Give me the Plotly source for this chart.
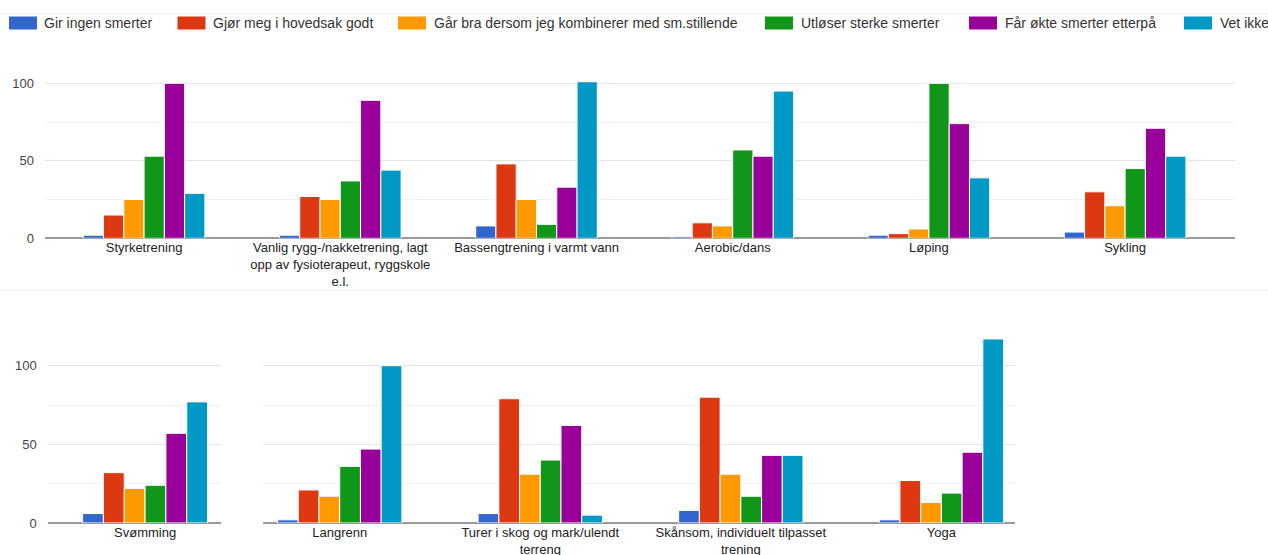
import plotly.graph_objects as go

series_names = [
    "Gir ingen smerter",
    "Gjør meg i hovedsak godt",
    "Går bra dersom jeg kombinerer med sm.stillende",
    "Utløser sterke smerter",
    "Får økte smerter etterpå",
    "Vet ikke",
]
colors = ["#3366cc", "#dc3912", "#ff9900", "#109618", "#990099", "#0099c6"]

# Top panel
top_categories = [
    "Styrketrening",
    "Vanlig rygg-/nakketrening, lagt<br>opp av fysioterapeut, ryggskole<br>e.l.",
    "Bassengtrening i varmt vann",
    "Aerobic/dans",
    "Løping",
    "Sykling",
]
top_values = [
    [2, 2, 8, 1, 2, 4],          # Gir ingen smerter
    [15, 27, 48, 10, 3, 30],     # Gjør meg i hovedsak godt
    [25, 25, 25, 8, 6, 21],      # Går bra dersom ...
    [53, 37, 9, 57, 100, 45],    # Utløser sterke smerter
    [100, 89, 33, 53, 74, 71],   # Får økte smerter etterpå
    [29, 44, 101, 95, 39, 53],   # Vet ikke
]

# Bottom-left panel
swim_categories = ["Svømming"]
swim_values = [[6], [32], [22], [24], [57], [77]]

# Bottom-right panel
bottom_categories = [
    "Langrenn",
    "Turer i skog og mark/ulendt<br>terreng",
    "Skånsom, individuelt tilpasset<br>trening",
    "Yoga",
]
bottom_values = [
    [2, 6, 8, 2],
    [21, 79, 80, 27],
    [17, 31, 31, 13],
    [36, 40, 17, 19],
    [47, 62, 43, 45],
    [100, 5, 43, 117],
]

W, H = 1268, 555
FONT = "Arial, 'Liberation Sans', sans-serif"

fig = go.Figure()
panels = [
    ("x", "y", top_categories, top_values),
    ("x2", "y2", swim_categories, swim_values),
    ("x3", "y3", bottom_categories, bottom_values),
]
for xa, ya, cats, vals in panels:
    for i, name in enumerate(series_names):
        fig.add_trace(go.Bar(
            x=cats, y=vals[i], name=name,
            marker=dict(color=colors[i], line=dict(color="white", width=1)),
            xaxis=xa, yaxis=ya,
            legendgroup=name, showlegend=False,
        ))

def px_x(a, b):
    return [a / W, b / W]

def px_y(top, bottom):
    return [1 - bottom / H, 1 - top / H]

grid_major = "#e3e3e3"
grid_minor = "#f1f1f1"
ycommon = dict(
    tickvals=[0, 50, 100], showgrid=True, gridcolor=grid_major, gridwidth=1,
    zeroline=True, zerolinecolor="#9a9a9a", zerolinewidth=1.5,
    minor=dict(tickvals=[25, 75], showgrid=True, gridcolor=grid_minor, gridwidth=1),
    tickfont=dict(family=FONT, size=13, color="#444"),
    ticklabelstandoff=10, fixedrange=True, automargin=False,
)
xcommon = dict(
    type="category", showgrid=False, showline=False, ticks="",
    tickfont=dict(family=FONT, size=13, color="#222"),
    fixedrange=True, automargin=False,
)

fig.update_layout(
    xaxis=dict(domain=px_x(45, 1235), range=[-0.505, 5.56], anchor="y", **xcommon),
    yaxis=dict(domain=px_y(238.3 - 105 * 1.55, 238.3), range=[0, 105], anchor="x", **ycommon),
    xaxis2=dict(domain=px_x(47.7, 220.7), range=[-0.483, 0.375], anchor="y2", **xcommon),
    yaxis2=dict(domain=px_y(523 - 120 * 1.573, 523), range=[0, 120], anchor="x2", **ycommon),
    xaxis3=dict(domain=px_x(262.7, 1015), range=[-0.384, 3.367], anchor="y3", **xcommon),
    yaxis3=dict(domain=px_y(523 - 120 * 1.573, 523), range=[0, 120], anchor="x3",
                **{**ycommon, "showticklabels": False}),
)

# Legend drawn as swatches + text, positioned as in the reference
legend_swatch_x = [9, 177.5, 398, 765, 969, 1184]
legend_text_x = [42, 211, 432, 799, 1003, 1218]
shapes = []
annotations = []
for i, name in enumerate(series_names):
    x0 = legend_swatch_x[i]
    shapes.append(dict(
        type="rect", xref="paper", yref="paper",
        x0=x0 / W, x1=(x0 + 28) / W, y0=1 - 29.5 / H, y1=1 - 16.5 / H,
        fillcolor=colors[i], line=dict(width=0), layer="above",
    ))
    annotations.append(dict(
        text=name, xref="paper", yref="paper",
        x=legend_text_x[i] / W, y=1 - 23 / H, xanchor="left", yanchor="middle",
        showarrow=False, font=dict(family=FONT, size=14, color="#333"),
    ))
# faint screenshot separator lines
for yy in (14, 290):
    shapes.append(dict(
        type="line", xref="paper", yref="paper", x0=0, x1=1,
        y0=1 - yy / H, y1=1 - yy / H, line=dict(color="#f5f5f5", width=1.5),
        layer="below",
    ))

fig.update_layout(
    width=W, height=H,
    margin=dict(l=0, r=0, t=0, b=0, autoexpand=False),
    paper_bgcolor="white", plot_bgcolor="white",
    barmode="group", bargap=0.38, bargroupgap=0,
    font=dict(family=FONT, size=13, color="#222"),
    showlegend=False,
    shapes=shapes, annotations=annotations,
)

fig.write_html("out.html")
